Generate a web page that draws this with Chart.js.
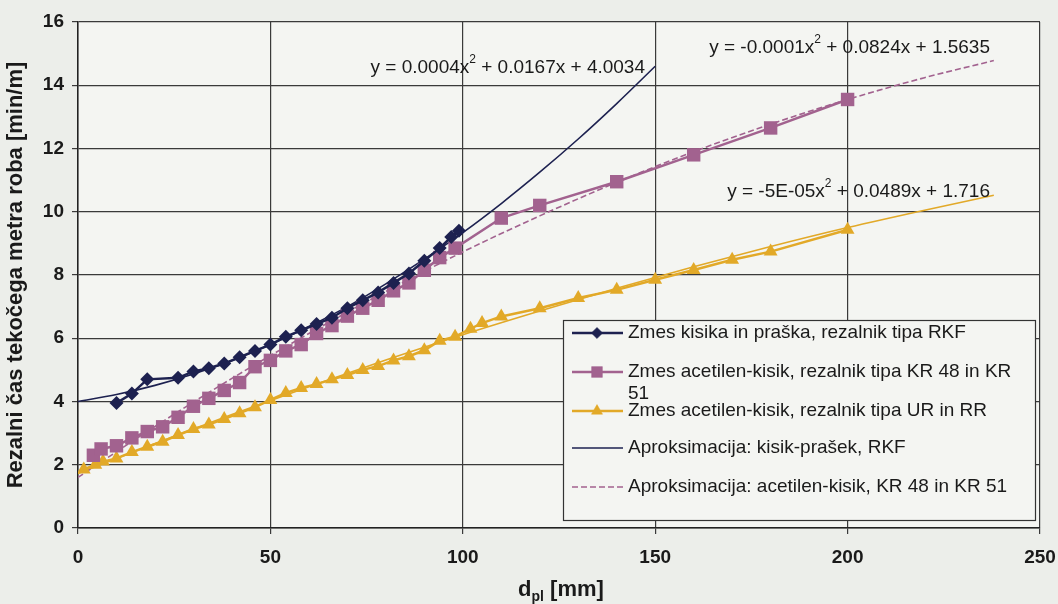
<!DOCTYPE html>
<html>
<head>
<meta charset="utf-8">
<script src="https://cdn.jsdelivr.net/npm/chart.js@4.4.0/dist/chart.umd.min.js"></script>
<style>
  html, body { margin: 0; padding: 0; background: #eceeea; }
  #wrap { position: relative; width: 1058px; height: 604px; }
</style>
</head>
<body>
<div id="wrap"><canvas id="myChart" width="1058" height="604"></canvas></div>
<script>
var rkf_x = [10, 14, 18, 26, 30, 34, 38, 42, 46, 50, 54, 58, 62, 66, 70, 74, 78, 82, 86, 90, 94, 97, 99];
var rkf_y = [3.95, 4.25, 4.7, 4.75, 4.95, 5.05, 5.2, 5.4, 5.6, 5.8, 6.05, 6.25, 6.45, 6.65, 6.95, 7.2, 7.45, 7.75, 8.05, 8.45, 8.85, 9.2, 9.4];

var kr_x = [4, 6, 10, 14, 18, 22, 26, 30, 34, 38, 42, 46, 50, 54, 58, 62, 66, 70, 74, 78, 82, 86, 90, 94, 98, 110, 120, 140, 160, 180, 200];
var kr_y = [2.3, 2.5, 2.6, 2.85, 3.05, 3.2, 3.5, 3.85, 4.1, 4.35, 4.6, 5.1, 5.3, 5.6, 5.8, 6.15, 6.4, 6.7, 6.95, 7.2, 7.5, 7.75, 8.15, 8.55, 8.85, 9.8, 10.2, 10.95, 11.8, 12.65, 13.55];

var ur_x = [1.5, 4.5, 6.5, 10, 14, 18, 22, 26, 30, 34, 38, 42, 46, 50, 54, 58, 62, 66, 70, 74, 78, 82, 86, 90, 94, 98, 102, 105, 110, 120, 130, 140, 150, 160, 170, 180, 200];
var ur_y = [1.85, 2.0, 2.1, 2.2, 2.4, 2.57, 2.73, 2.94, 3.13, 3.27, 3.45, 3.63, 3.82, 4.05, 4.27, 4.43, 4.55, 4.7, 4.84, 5.0, 5.12, 5.3, 5.43, 5.62, 5.92, 6.05, 6.3, 6.48, 6.69, 6.95, 7.27, 7.53, 7.85, 8.16, 8.48, 8.74, 9.43];

// trend lines as they appear on the scan
var fit_rkf_x = [0, 10, 20, 30, 40, 50, 60, 70, 80, 90, 100, 110, 120, 130, 140, 150];
var fit_rkf_y = [4.0, 4.22, 4.51, 4.87, 5.3, 5.8, 6.37, 7.0, 7.72, 8.5, 9.34, 10.26, 11.25, 12.3, 13.42, 14.6];

var fit_kr_x = [0, 20, 40, 60, 80, 100, 120, 140, 160, 180, 200, 220, 238];
var fit_kr_y = [1.6, 3.21, 4.73, 6.15, 7.48, 8.73, 9.87, 10.93, 11.9, 12.77, 13.55, 14.24, 14.78];

var fit_ur_x = [0, 20, 40, 60, 80, 100, 120, 140, 160, 180, 200, 220, 238];
var fit_ur_y = [1.72, 2.67, 3.59, 4.47, 5.31, 6.11, 6.86, 7.58, 8.26, 8.9, 9.5, 10.05, 10.52];

var x_ticks = [0, 50, 100, 150, 200, 250];
var y_ticks = [0, 2, 4, 6, 8, 10, 12, 14, 16];

var labels = [
  "Zmes kisika in praška, rezalnik tipa RKF",
  "Zmes acetilen-kisik, rezalnik tipa KR 48 in KR|51",
  "Zmes acetilen-kisik, rezalnik tipa UR in RR",
  "Aproksimacija: kisik-prašek, RKF",
  "Aproksimacija: acetilen-kisik, KR 48 in KR 51"
];
var equations = [
  "y = 0.0004x^2 + 0.0167x + 4.0034",
  "y = -0.0001x^2 + 0.0824x + 1.5635",
  "y = -5E-05x^2 + 0.0489x + 1.716"
];
var x_title = ["d", "pl", " [mm]"];
var y_title = "Rezalni čas tekočega metra roba [min/m]";

var NAVY = "#1d2150", PURPLE = "#a2628f", GOLD = "#e2a928";
var FONT = "'Liberation Sans', Arial, sans-serif";
var TXT = "#1a1a1a";

function pts(xs, ys){
  return xs.map(function(x, i){ return {x: x, y: ys[i]}; });
}

var bgPlugin = {
  id: 'bg',
  beforeDraw: function(chart){
    var ctx = chart.ctx, a = chart.chartArea;
    ctx.save();
    ctx.fillStyle = "#eceeea";
    ctx.fillRect(0, 0, chart.width, chart.height);
    ctx.fillStyle = "#f4f5f2";
    ctx.fillRect(a.left, a.top, a.right - a.left, a.bottom - a.top);
    ctx.restore();
  }
};

function drawEq(ctx, str, right, y){
  var p = str.split("^2");
  ctx.font = "19px " + FONT;
  var w1 = ctx.measureText(p[0]).width;
  var w3 = ctx.measureText(p[1]).width;
  ctx.font = "12px " + FONT;
  var w2 = ctx.measureText("2").width;
  var x = right - w1 - w2 - w3;
  ctx.fillStyle = TXT;
  ctx.textBaseline = "middle";
  ctx.textAlign = "left";
  ctx.font = "19px " + FONT;
  ctx.fillText(p[0], x, y);
  ctx.font = "12px " + FONT;
  ctx.fillText("2", x + w1, y - 8);
  ctx.font = "19px " + FONT;
  ctx.fillText(p[1], x + w1 + w2, y);
}

var extrasPlugin = {
  id: 'extras',
  afterDraw: function(chart){
    var ctx = chart.ctx;
    ctx.save();

    // trend equations
    drawEq(ctx, equations[0], 645, 68);
    drawEq(ctx, equations[1], 990, 48);
    drawEq(ctx, equations[2], 990, 192);

    // x axis title with subscript
    ctx.fillStyle = TXT;
    ctx.textBaseline = "alphabetic";
    ctx.textAlign = "left";
    ctx.font = "bold 22px " + FONT;
    var w1 = ctx.measureText(x_title[0]).width;
    var w3 = ctx.measureText(x_title[2]).width;
    ctx.font = "bold 14px " + FONT;
    var w2 = ctx.measureText(x_title[1]).width;
    var x0 = 561 - (w1 + w2 + w3) / 2, base = 596;
    ctx.font = "bold 22px " + FONT;
    ctx.fillText(x_title[0], x0, base);
    ctx.font = "bold 14px " + FONT;
    ctx.fillText(x_title[1], x0 + w1, base + 5);
    ctx.font = "bold 22px " + FONT;
    ctx.fillText(x_title[2], x0 + w1 + w2, base);

    // legend box
    ctx.fillStyle = "#f4f5f2";
    ctx.fillRect(563, 320, 472, 200);
    ctx.strokeStyle = "#333";
    ctx.lineWidth = 1.2;
    ctx.strokeRect(563.5, 320.5, 472, 200);

    var rows = [333, 372, 411, 448, 487];
    var ds = chart.data.datasets;
    for (var i = 0; i < labels.length; i++) {
      var d = ds[i];
      var y = rows[i];
      ctx.save();
      ctx.strokeStyle = d.borderColor;
      ctx.lineWidth = i < 3 ? 2.5 : 1.5;
      ctx.setLineDash(d.borderDash || []);
      ctx.beginPath();
      ctx.moveTo(572, y);
      ctx.lineTo(623, y);
      ctx.stroke();
      ctx.restore();
      if (i < 3) {
        ctx.save();
        ctx.fillStyle = d.pointBackgroundColor;
        ctx.strokeStyle = d.pointBackgroundColor;
        ctx.lineWidth = 0.5;
        Chart.helpers.drawPoint(ctx, {pointStyle: d.pointStyle, rotation: 0, radius: d.pointRadius * 0.8, borderWidth: 0.5}, 597, y);
        ctx.restore();
      }
      ctx.fillStyle = TXT;
      ctx.font = "19px " + FONT;
      ctx.textBaseline = "middle";
      ctx.textAlign = "left";
      var lines = labels[i].split("|");
      for (var k = 0; k < lines.length; k++) {
        ctx.fillText(lines[k], 628, y + k * 22);
      }
    }
    ctx.restore();
  }
};

var ctx = document.getElementById("myChart");
var chart = new Chart(ctx, {
  type: 'scatter',
  data: {
    datasets: [
      { label: labels[0], data: pts(rkf_x, rkf_y), showLine: true,
        borderColor: NAVY, borderWidth: 2.5, pointStyle: 'rectRot', pointRadius: 7,
        pointBackgroundColor: NAVY, pointBorderColor: NAVY, pointBorderWidth: 0 },
      { label: labels[1], data: pts(kr_x, kr_y), showLine: true,
        borderColor: PURPLE, borderWidth: 2.5, pointStyle: 'rect', pointRadius: 9.5,
        pointBackgroundColor: PURPLE, pointBorderColor: PURPLE, pointBorderWidth: 0 },
      { label: labels[2], data: pts(ur_x, ur_y), showLine: true,
        borderColor: GOLD, borderWidth: 2.5, pointStyle: 'triangle', pointRadius: 8,
        pointBackgroundColor: GOLD, pointBorderColor: GOLD, pointBorderWidth: 0 },
      { label: labels[3], data: pts(fit_rkf_x, fit_rkf_y), showLine: true,
        borderColor: NAVY, borderWidth: 1.6, pointRadius: 0, cubicInterpolationMode: 'monotone' },
      { label: labels[4], data: pts(fit_kr_x, fit_kr_y), showLine: true,
        borderColor: PURPLE, borderWidth: 1.6, borderDash: [6, 3], pointRadius: 0, cubicInterpolationMode: 'monotone' },
      { label: "ur fit", data: pts(fit_ur_x, fit_ur_y), showLine: true,
        borderColor: GOLD, borderWidth: 1.6, pointRadius: 0, cubicInterpolationMode: 'monotone' }
    ]
  },
  options: {
    responsive: false,
    animation: false,
    events: [],
    layout: { padding: { top: 22, right: 18, left: 0, bottom: 0 } },
    plugins: {
      legend: { display: false },
      tooltip: { enabled: false }
    },
    scales: {
      x: {
        type: 'linear', min: 0, max: 250,
        afterFit: function(s){ s.height = 76; s.paddingLeft = 0; s.paddingRight = 0; },
        afterBuildTicks: function(s){ s.ticks = x_ticks.map(function(v){ return {value: v}; }); },
        grid: { color: '#3a3a3a', lineWidth: 1.2, tickLength: 6 },
        border: { color: '#222', width: 1.5 },
        ticks: { color: TXT, padding: 12, maxRotation: 0, font: { family: FONT, size: 19, weight: 'bold' } }
      },
      y: {
        type: 'linear', min: 0, max: 16,
        afterFit: function(s){ s.width = 78; s.paddingTop = 0; s.paddingBottom = 0; },
        afterBuildTicks: function(s){ s.ticks = y_ticks.map(function(v){ return {value: v}; }); },
        grid: { color: '#3a3a3a', lineWidth: 1.2, tickLength: 6 },
        border: { color: '#222', width: 1.5 },
        ticks: { color: TXT, padding: 8, font: { family: FONT, size: 19, weight: 'bold' } },
        title: { display: true, text: y_title, color: TXT, padding: { top: 3, bottom: 0 },
                 font: { family: FONT, size: 22, weight: 'bold' } }
      }
    }
  },
  plugins: [bgPlugin, extrasPlugin]
});
</script>
</body>
</html>
